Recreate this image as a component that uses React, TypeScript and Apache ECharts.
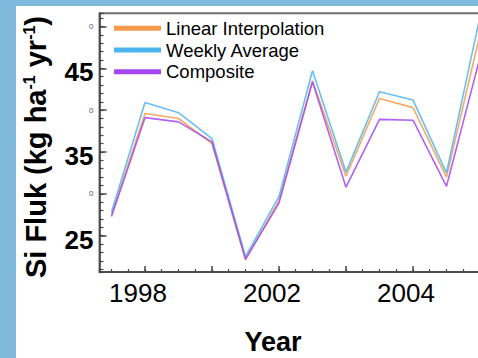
import React, { useEffect, useRef } from "react";
import * as echarts from "echarts";

const years = [1997, 1998, 1999, 2000, 2001, 2002, 2003, 2004, 2005, 2006, 2007, 2008];
const linearInterpolation = [27.5, 39.6, 39.0, 36.0, 22.1, 29.2, 43.5, 32.1, 41.4, 40.3, 32.0, 49.1];
const weeklyAverage = [27.8, 40.9, 39.7, 36.6, 22.5, 29.7, 44.7, 32.6, 42.2, 41.2, 32.5, 51.2];
const composite = [27.3, 39.1, 38.6, 36.2, 22.2, 28.9, 43.4, 30.8, 38.9, 38.8, 30.9, 46.3];

const seriesNames = ["Linear Interpolation", "Weekly Average", "Composite"];
const seriesColors = ["#f59a4c", "#4db4ee", "#a348ee"];

// x tick labels as printed on the original figure
const xLabelPositions = [1998, 2002, 2006];
const xLabelTexts = ["1998", "2002", "2004"];
// y tick labels: big labels and tiny (truncated) "0" labels
const yBigLabels = [45, 35, 25];
const ySmallLabels = [50, 40, 30];

const CHART_W = 530;
const CHART_H = 358;

export default function App() {
  const ref = useRef<HTMLDivElement>(null);
  useEffect(() => {
    if (!ref.current) return;
    const chart = echarts.init(ref.current, null, { renderer: "svg" });
    const xMin = 1996.642;
    const xMax = 2009;
    const yMin = 20.66;
    const yMax = 51.57;
    const pair = (arr: number[]) => years.map((y, i) => [y, arr[i]]);
    const option: any = {
      animation: false,
      backgroundColor: "#7fbadc",
      graphic: [
        {
          type: "rect",
          z: -10,
          silent: true,
          shape: { x: 16, y: 6, width: CHART_W, height: CHART_H },
          style: { fill: "#ffffff" },
        },
        {
          type: "text",
          x: 36,
          y: 147,
          rotation: Math.PI / 2,
          style: {
            text: "{m|Si Fluk (kg ha}{s|-1}{m| yr}{s|-1}{m|)}",
            align: "center",
            verticalAlign: "middle",
            rich: {
              m: { fontSize: 29, fontWeight: "bold", fontFamily: "Liberation Sans, Arial", fill: "#000" },
              s: { fontSize: 16, fontWeight: "bold", fontFamily: "Liberation Sans, Arial", fill: "#000", verticalAlign: "top" },
            },
          },
        },
        {
          type: "text",
          x: 273,
          y: 342,
          style: {
            text: "Year",
            align: "center",
            verticalAlign: "middle",
            fontSize: 27,
            fontWeight: "bold",
            fontFamily: "Liberation Sans, Arial",
            fill: "#000",
          },
        },
      ],
      grid: {
        left: 99.5,
        top: 13.3,
        bottom: 86,
        width: (xMax - xMin) * 33.5,
        show: true,
        borderColor: "#707070",
        borderWidth: 2,
        backgroundColor: "transparent",
        containLabel: false,
      },
      legend: {
        orient: "vertical",
        left: 114,
        top: 17.5,
        padding: 0,
        itemGap: 0,
        itemWidth: 47,
        itemHeight: 5,
        icon: "rect",
        data: seriesNames,
        textStyle: {
          fontSize: 18.5,
          lineHeight: 21.7,
          fontFamily: "Liberation Sans, Arial",
          color: "#000",
        },
      },
      xAxis: [
        {
          type: "value",
          min: xMin,
          max: xMax,
          splitNumber: 6,
          position: "bottom",
          axisLine: { show: true, lineStyle: { color: "#444", width: 1.5 } },
          axisTick: { show: true, inside: true, length: 6, lineStyle: { color: "#444", width: 1.5 } },
          splitLine: { show: false },
          axisLabel: {
            showMinLabel: false,
            showMaxLabel: false,
            margin: 8,
            formatter: (v: number) => {
              const i = xLabelPositions.findIndex((p) => Math.abs(p - v) < 1e-6);
              return i >= 0 ? "{a|" + xLabelTexts[i] + "}" : "";
            },
            rich: {
              a: { fontSize: 26, fontFamily: "Liberation Sans, Arial", color: "#000", padding: [0, 14, 0, 0] },
            },
          },
        },
        {
          type: "value",
          min: xMin,
          max: xMax,
          splitNumber: 25,
          position: "bottom",
          axisLine: { show: false },
          axisTick: { show: true, inside: true, length: 3, lineStyle: { color: "#444", width: 1.2 } },
          splitLine: { show: false },
          axisLabel: { show: false },
        },
      ],
      yAxis: [
        {
          type: "value",
          min: yMin,
          max: yMax,
          splitNumber: 6,
          position: "left",
          axisLine: { show: true, lineStyle: { color: "#444", width: 1.5 } },
          axisTick: { show: true, inside: true, length: 7, lineStyle: { color: "#444", width: 1.5 } },
          splitLine: { show: false },
          axisLabel: {
            showMinLabel: false,
            showMaxLabel: false,
            margin: 4,
            formatter: (v: number) => {
              if (yBigLabels.some((p) => Math.abs(p - v) < 1e-6)) return "{b|" + v + "}";
              if (ySmallLabels.some((p) => Math.abs(p - v) < 1e-6)) return "{s|0}";
              return "";
            },
            rich: {
              b: { fontSize: 26, fontWeight: "bold", fontFamily: "Liberation Sans, Arial", color: "#000", padding: [8, 2, 0, 0] },
              s: { fontSize: 8, fontFamily: "Liberation Sans, Arial", color: "#555", padding: [0, 2, 0, 0] },
            },
          },
        },
        {
          type: "value",
          min: yMin,
          max: yMax,
          splitNumber: 31,
          position: "left",
          axisLine: { show: false },
          axisTick: { show: true, inside: true, length: 4, lineStyle: { color: "#444", width: 1.2 } },
          splitLine: { show: false },
          axisLabel: { show: false },
        },
      ],
      series: [
        { name: seriesNames[0], data: pair(linearInterpolation), color: seriesColors[0] },
        { name: seriesNames[1], data: pair(weeklyAverage), color: seriesColors[1] },
        { name: seriesNames[2], data: pair(composite), color: seriesColors[2] },
      ].map((s) => ({
        type: "line",
        name: s.name,
        data: s.data,
        xAxisIndex: 0,
        yAxisIndex: 0,
        showSymbol: false,
        symbol: "none",
        itemStyle: { color: s.color },
        lineStyle: { color: s.color, width: 1.6, opacity: 0.85 },
      })),
    };
    chart.setOption(option);
    return () => chart.dispose();
  }, []);
  return (
    <div
      style={{
        position: "fixed",
        left: 0,
        top: 0,
        width: 478,
        height: 358,
        overflow: "hidden",
        background: "#7fbadc",
      }}
    >
      <div ref={ref} style={{ width: CHART_W, height: CHART_H }} />
    </div>
  );
}
